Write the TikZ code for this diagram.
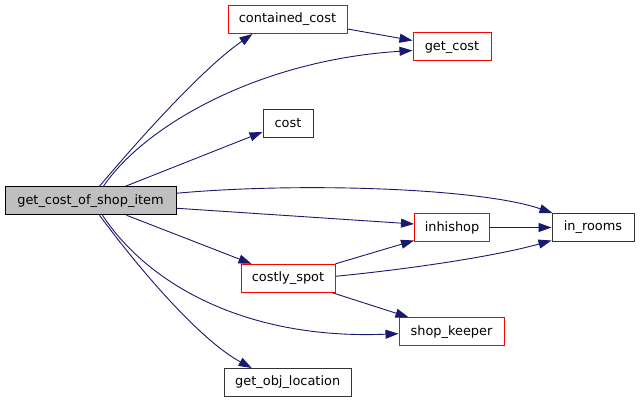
\documentclass[tikz,border=0pt]{standalone}
\usepackage{fontspec}
\setmainfont{DejaVu Sans}
\usetikzlibrary{arrows.meta}
\definecolor{edgeblue}{HTML}{191970}
\begin{document}
\begin{tikzpicture}[x=1pt,y=-1pt,
  fn/.style={draw, rectangle, minimum height=28pt, inner sep=0pt, line width=1pt,
    font=\fontsize{12.9}{15}\selectfont},
  redfn/.style={fn, draw=red},
  blkfn/.style={fn, draw=black!80},
  mainfn/.style={fn, draw=black, fill=black!25},
  edge/.style={draw=edgeblue, line width=0.9pt, -{Triangle[length=13pt,width=9pt]}}]
\fill[white] (0,0) rectangle (640,403);
\useasboundingbox (0,0) rectangle (640,403);

\node[mainfn, minimum width=171pt] (main) at (90.5,200.75) {get\_cost\_of\_shop\_item};
\node[redfn, minimum width=119pt] (cc) at (287.5,19.5) {contained\_cost};
\node[redfn, minimum width=78pt] (gc) at (452,47) {get\_cost};
\node[blkfn, minimum width=50pt] (cost) at (288,123.5) {cost};
\node[blkfn, minimum width=82pt] (ir) at (593,227.5) {in\_rooms};
\node[redfn, minimum width=75pt] (ih) at (452,227.5) {inhishop};
\node[redfn, minimum width=94pt] (cs) at (288,278.3) {costly\_spot};
\node[redfn, minimum width=105pt] (sk) at (451.5,331.7) {shop\_keeper};
\node[blkfn, minimum width=127pt] (gol) at (287.7,382.5) {get\_obj\_location};

\draw[edge] ([xshift=95pt]main.north west) .. controls (130,150) and (200,70) .. ([xshift=25pt]cc.south west);
\draw[edge] ([xshift=99pt]main.north west) .. controls (145,125) and (260,60) .. ([yshift=-3.5pt]gc.west);
\draw[edge] ([yshift=-9.5pt]cc.east) -- ([yshift=6.5pt]gc.west);
\draw[edge] ([xshift=121pt]main.north west) -- ([yshift=-8.5pt]cost.west);
\draw[edge] ([yshift=7.5pt]main.east) .. controls (300,182) and (480,188) .. ([xshift=1pt]ir.north west);
\draw[edge] ([yshift=-7.5pt]main.east) -- ([yshift=3.5pt]ih.west);
\draw[edge] ([xshift=122pt]main.south west) -- ([xshift=11pt]cs.north west);
\draw[edge] ([xshift=98pt]main.south west) .. controls (145,280) and (240,340) .. ([yshift=-2pt]sk.west);
\draw[edge] ([xshift=95pt]main.south west) .. controls (140,270) and (200,340) .. ([xshift=28pt]gol.north west);
\draw[edge] (ih.east) -- (ir.west);
\draw[edge] (cs.north east) -- ([yshift=1.5pt]ih.south west);
\draw[edge] ([yshift=2pt]cs.east) .. controls (420,268) and (500,255) .. ([yshift=1.5pt]ir.south west);
\draw[edge] ([xshift=-3pt]cs.south east) -- ([xshift=10pt]sk.north west);
\end{tikzpicture}
\end{document}
